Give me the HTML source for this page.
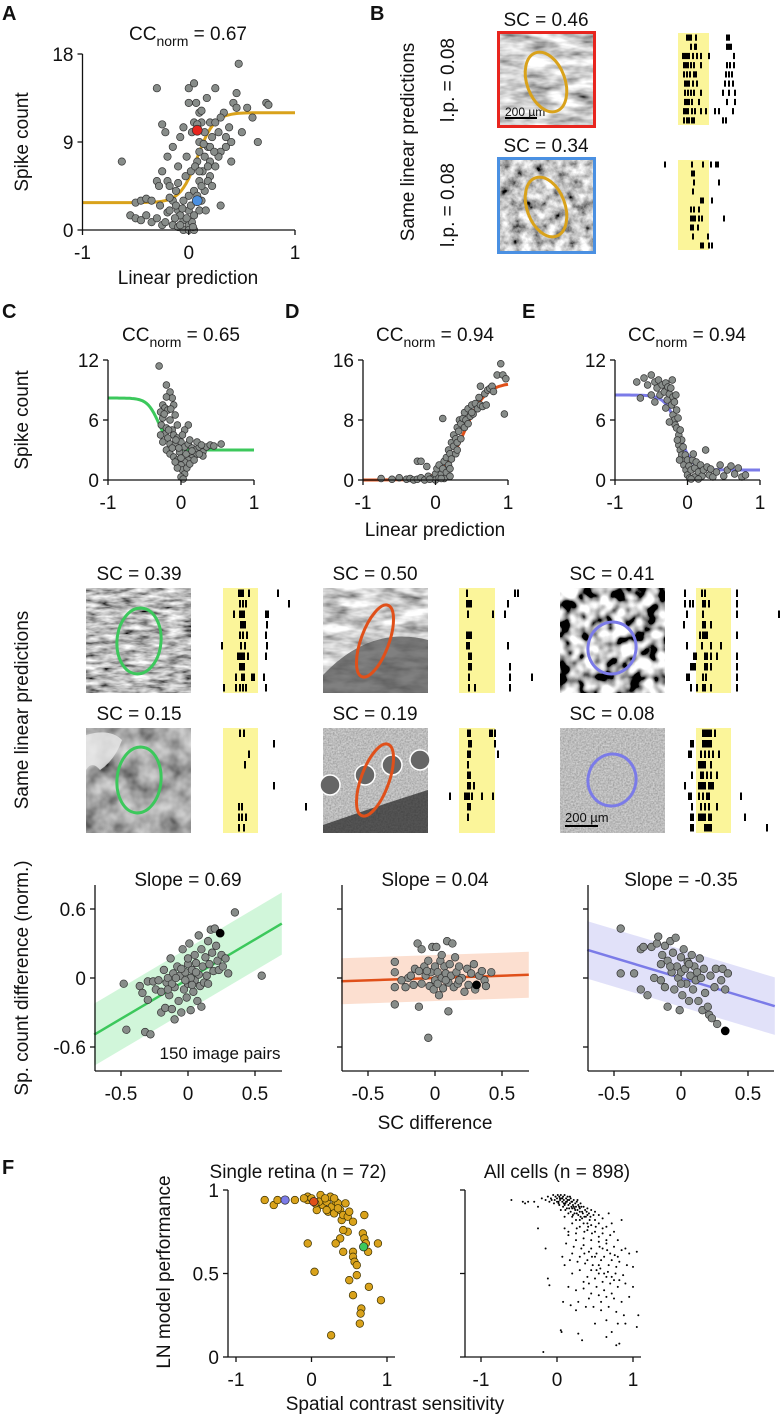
<!DOCTYPE html>
<html><head><meta charset="utf-8"><style>
html,body{margin:0;padding:0;background:#fff}
svg{display:block;font-family:"Liberation Sans",Arial,sans-serif}
text{fill:#111}
</style></head><body>
<svg id="fig" width="782" height="1419" viewBox="0 0 782 1419" xmlns="http://www.w3.org/2000/svg">
<defs>
<filter id="tex1" x="0" y="0" width="1" height="1"><feTurbulence type="fractalNoise" baseFrequency="0.04 0.12" numOctaves="3" seed="3"/><feColorMatrix type="matrix" values="1.5 0 0 0 -0.1  1.5 0 0 0 -0.1  1.5 0 0 0 -0.1  0 0 0 0 1"/></filter>
<filter id="tex2" x="0" y="0" width="1" height="1"><feTurbulence type="fractalNoise" baseFrequency="0.09" numOctaves="4" seed="7"/><feColorMatrix type="matrix" values="1.8 0 0 0 -0.35  1.8 0 0 0 -0.35  1.8 0 0 0 -0.35  0 0 0 0 1"/></filter>
<filter id="tex3" x="0" y="0" width="1" height="1"><feTurbulence type="fractalNoise" baseFrequency="0.06 0.2" numOctaves="3" seed="11"/><feColorMatrix type="matrix" values="1.6 0 0 0 -0.3  1.6 0 0 0 -0.3  1.6 0 0 0 -0.3  0 0 0 0 1"/></filter>
<filter id="tex4" x="0" y="0" width="1" height="1"><feTurbulence type="fractalNoise" baseFrequency="0.05" numOctaves="3" seed="5"/><feColorMatrix type="matrix" values="0.9 0 0 0 -0.05  0.9 0 0 0 -0.05  0.9 0 0 0 -0.05  0 0 0 0 1"/></filter>
<filter id="tex5" x="0" y="0" width="1" height="1"><feTurbulence type="fractalNoise" baseFrequency="0.07" numOctaves="2" seed="9"/><feColorMatrix type="matrix" values="4 0 0 0 -1.5  4 0 0 0 -1.5  4 0 0 0 -1.5  0 0 0 0 1"/></filter>
<filter id="tex6" x="0" y="0" width="1" height="1"><feTurbulence type="fractalNoise" baseFrequency="0.6" numOctaves="2" seed="2"/><feColorMatrix type="matrix" values="0.5 0 0 0 0.25  0.5 0 0 0 0.25  0.5 0 0 0 0.25  0 0 0 0 1"/></filter>
</defs>
</svg>
<script>
// ---------- data ----------
const aPts=[[-0.63,7],[-0.5,2.8],[-0.45,3],[-0.4,3.2],[-0.35,3],[-0.3,14.5],[-0.27,2.5],[-0.25,10.8],[-0.22,10],[-0.2,7.5],[-0.2,5],[-0.18,4.5],[-0.15,8.5],[-0.15,3],[-0.12,4],[-0.1,6.5],[-0.1,2],[-0.08,9.5],[-0.05,3],[-0.05,1],[-0.03,5.5],[0,13],[0,14.5],[0,2],[0,0.5],[0.02,6],[0.03,10],[0.05,15],[0.05,11],[0.05,4],[0.05,1.5],[0.07,13],[0.08,7],[0.1,12],[0.1,8],[0.1,5],[0.1,2],[0.12,11],[0.13,6],[0.15,10],[0.15,4],[0.17,13.5],[0.18,8.5],[0.2,11],[0.2,7],[0.2,5.5],[0.22,9.5],[0.25,14.5],[0.25,11],[0.25,6.5],[0.28,10],[0.3,8],[0.3,2.5],[0.33,12],[0.35,9.5],[0.38,10.5],[0.4,7],[0.42,13],[0.45,12.5],[0.45,14],[0.47,17],[0.5,10],[0.55,12.5],[0.6,11.5],[0.65,9],[0.73,13],[0.75,12.8],[-0.55,1.5],[-0.5,1.2],[-0.45,1],[-0.4,1.5],[-0.35,0.8],[-0.3,1.2],[-0.25,0.5],[-0.2,1.8],[-0.15,0.5],[-0.1,0.3],[-0.05,0],[0,0],[0.05,0],[-0.12,2.5],[-0.08,1.5],[0.02,2.5],[0.08,3.5],[0.12,3],[0.18,5],[0.22,4.5],[0.1,9],[0.15,7.5],[-0.02,7.5],[0.28,7.5],[-0.25,6],[-0.3,5],[0.35,8.5],[0.4,9],[-0.05,10.5],[-0.28,4.5],[0.16,2],[0.03,0.8],[-0.18,2],[0.3,11.5],[0.06,6.5],[0.2,8.5],[0.12,4.5],[-0.1,4.8],[-0.08,0.5],[-0.02,1.2],[0.04,0.3],[-0.13,1.2],[0,3.5],[0.1,6],[0.18,6.5],[0.14,8.8],[0.24,8],[0.08,10.8],[0.12,12.2],[-0.06,2.2],[-0.18,3.3],[-0.22,0.8]];
const aRed=[0.08,10.2], aBlue=[0.08,3];
const aFit=[2.8,9.2,0.08,0.08]; // base, amplitude, midpoint, width
const cPts=[[-0.3,11.4],[-0.2,9.5],[-0.15,8.8],[-0.12,8.2],[-0.2,8.3],[-0.25,7.5],[-0.22,7.2],[-0.28,6.8],[-0.18,7],[-0.1,7.5],[-0.08,6.5],[-0.25,6.2],[-0.15,6],[-0.05,5.5],[-0.27,5.5],[-0.2,5.2],[-0.12,5],[-0.22,4.6],[-0.28,4.5],[-0.18,4.2],[-0.1,4.5],[-0.05,4.2],[0.1,5.5],[0.05,5],[-0.25,3.8],[-0.15,3.6],[-0.08,3.5],[0,3.8],[0.05,3.3],[0.1,3.6],[0.15,3.2],[0.2,3],[0.25,3.3],[0.3,2.8],[0.35,3.3],[0.4,3.5],[0.45,3.4],[0.55,3.6],[0.3,2.4],[0.2,2.5],[0.15,2.2],[0.1,2],[0.05,1.8],[-0.2,3],[-0.15,2.6],[-0.1,2.3],[-0.05,2],[0,1.5],[0.02,1],[0.05,0.6],[0,0.3],[0.03,0.1],[-0.05,1.2],[-0.08,1.8],[0.08,1.2],[0.12,1.6],[0.18,2],[0.25,2.6],[-0.12,3.2],[-0.02,2.8],[0.07,2.6],[-0.17,5],[-0.07,4],[0.02,4.5],[0.12,4],[0.22,3.8],[0.28,3.5],[-0.23,6.6],[-0.14,7.1],[-0.03,3.2],[0,2.2],[0.15,2.9]];
const cFit=[3,5.2,-0.3,-0.08];
const dPts=[[-0.75,0.2],[-0.6,0.1],[-0.5,0.3],[-0.4,0.1],[-0.35,0.2],[-0.3,0],[-0.25,2.5],[-0.2,2.5],[-0.25,0.1],[-0.2,0.3],[-0.15,0],[-0.12,1.8],[-0.1,0.5],[-0.05,0.2],[0,0.8],[0,0],[0.02,1.5],[0.05,0.3],[0.05,2],[0.08,0.8],[0.1,1.5],[0.1,8.2],[0.12,2.5],[0.12,0.2],[0.15,3],[0.15,1],[0.18,2],[0.18,4],[0.2,3.5],[0.2,1.5],[0.22,5],[0.22,2.8],[0.25,4.5],[0.25,6],[0.28,5.5],[0.28,3.5],[0.3,7],[0.3,5],[0.32,6.5],[0.33,8],[0.35,7.5],[0.35,5.5],[0.38,8.2],[0.4,7],[0.4,9],[0.42,8],[0.45,9.5],[0.48,8.5],[0.5,10],[0.52,8.8],[0.55,10.2],[0.58,9.5],[0.6,11],[0.62,10],[0.65,9.8],[0.68,11.5],[0.7,10],[0.72,12],[0.75,12.2],[0.78,12.5],[0.8,11.8],[0.85,14],[0.9,15.5],[0.93,14],[0.95,8.8],[0.97,13.5],[0.62,12.5],[0.5,9],[0.45,7.5],[0.3,4],[0.2,0.5],[0.08,0.2],[-0.08,0.1]];
const dFit=[0,13,0.4,0.15];
const ePts=[[-0.7,9.8],[-0.65,8.2],[-0.6,10.2],[-0.55,9.5],[-0.5,10.5],[-0.5,8.5],[-0.45,9.8],[-0.45,7.8],[-0.42,9.2],[-0.4,10],[-0.38,8.5],[-0.35,9.5],[-0.32,8.8],[-0.3,9.7],[-0.28,8],[-0.27,9.3],[-0.25,8.6],[-0.23,9.2],[-0.22,7.5],[-0.21,10],[-0.2,8.3],[-0.2,6.5],[-0.18,7.8],[-0.18,6],[-0.17,5.5],[-0.15,7],[-0.15,5.2],[-0.13,6.2],[-0.12,4.5],[-0.12,3.5],[-0.1,5],[-0.1,3],[-0.08,4],[-0.08,2.5],[-0.06,3.3],[-0.05,2],[-0.05,1.5],[-0.03,2.5],[-0.02,1],[0,2],[0,0.5],[0.02,1.4],[0.03,0.2],[0.05,1],[0.07,2],[0.1,1.2],[0.1,0.3],[0.12,1.8],[0.15,0.8],[0.18,1.5],[0.2,0.4],[0.22,1],[0.25,3],[0.27,1.3],[0.3,0.5],[0.32,1.1],[0.35,0.3],[0.4,0.8],[0.45,1.5],[0.5,0.4],[0.55,1],[0.6,1.4],[0.65,0.6],[0.7,1.2],[0.75,0.3],[0.8,0.5],[-0.25,5.8],[-0.3,7.2],[-0.16,8.5],[-0.14,4],[-0.11,2],[0.05,0.1],[0.15,0.1],[0.08,2.6]];
const eFit=[1,7.5,-0.12,-0.09];
const sC=[[-0.48,-0.05],[-0.46,-0.45],[-0.36,-0.07],[-0.34,-0.13],[-0.32,-0.47],[-0.3,-0.19],[-0.3,-0.03],[-0.28,-0.49],[-0.26,-0.03],[-0.24,-0.1],[-0.22,-0.02],[-0.2,-0.12],[-0.2,-0.3],[-0.18,0.07],[-0.17,-0.26],[-0.16,-0.04],[-0.15,0],[-0.14,-0.15],[-0.13,0.17],[-0.12,-0.27],[-0.11,0.04],[-0.1,-0.08],[-0.1,-0.36],[-0.08,0.1],[-0.07,-0.2],[-0.06,0.02],[-0.05,-0.3],[-0.04,0.25],[-0.03,-0.1],[-0.02,0.05],[-0.01,-0.17],[0,0.12],[0,-0.05],[0.01,0.3],[0.02,-0.28],[0.03,0.07],[0.04,-0.12],[0.05,0.2],[0.05,-0.02],[0.06,0.13],[0.07,-0.2],[0.08,0.37],[0.08,0.03],[0.09,-0.07],[0.1,0.25],[0.1,-0.25],[0.11,0.1],[0.12,-0.04],[0.13,0.18],[0.14,0.02],[0.15,0.32],[0.15,-0.05],[0.16,0.12],[0.17,0.42],[0.18,0.22],[0.19,0.06],[0.2,0.43],[0.21,0.28],[0.22,0.15],[0.23,0.07],[0.25,0.2],[0.26,0.1],[0.28,0.17],[0.3,0.04],[0.35,0.57],[0.55,0.02],[-0.12,-0.05],[-0.09,0],[-0.05,0.08],[0.02,0],[-0.02,-0.02],[0,0.17],[0.03,-0.06],[-0.15,-0.1],[0.06,0.05]];
const sD=[[-0.3,0.14],[-0.3,0.05],[-0.3,-0.08],[-0.3,-0.23],[-0.22,-0.08],[-0.2,0],[-0.18,0.02],[-0.15,0.08],[-0.13,0.3],[-0.12,-0.25],[-0.1,0.25],[-0.1,-0.05],[-0.08,0.1],[-0.07,0.02],[-0.05,-0.52],[-0.05,0.15],[-0.04,-0.07],[-0.03,0.05],[-0.02,0.27],[-0.01,-0.1],[0,0.1],[0,-0.02],[0.01,0.27],[0.02,0.05],[0.03,-0.15],[0.04,0.15],[0.05,0],[0.06,-0.09],[0.07,0.1],[0.08,0.04],[0.09,0.32],[0.1,-0.04],[0.1,-0.29],[0.11,0.12],[0.12,0.02],[0.13,0.3],[0.14,-0.08],[0.15,0.18],[0.16,0.05],[0.17,-0.05],[0.18,0.1],[0.2,0],[0.22,-0.12],[0.24,0.08],[0.25,-0.06],[0.27,0.04],[0.29,0.12],[0.33,0.02],[0.37,-0.02],[0.38,-0.07],[0.42,0.05],[-0.25,-0.02],[-0.16,-0.06],[-0.06,0.06],[0.05,0.2],[0.18,-0.02],[0.35,0.06],[0.3,-0.1],[-0.12,0.06],[0.08,-0.02],[0.02,-0.05]];
const sE=[[-0.45,0.43],[-0.45,0.04],[-0.35,0.04],[-0.3,-0.1],[-0.3,0.25],[-0.28,0.27],[-0.25,-0.15],[-0.22,0.27],[-0.2,0],[-0.18,0.3],[-0.17,0.36],[-0.15,-0.02],[-0.14,0.2],[-0.12,0.28],[-0.12,-0.08],[-0.1,0.15],[-0.1,-0.25],[-0.08,0.32],[-0.07,0.05],[-0.06,0.22],[-0.05,-0.1],[-0.04,0.35],[-0.03,0.1],[-0.02,0],[-0.01,-0.28],[0,0.18],[0,0.05],[0.01,-0.15],[0.02,0.25],[0.03,0.08],[0.04,-0.05],[0.05,0.14],[0.06,-0.2],[0.07,0.02],[0.08,0.2],[0.09,-0.1],[0.1,0.1],[0.11,-0.02],[0.12,0.05],[0.13,-0.2],[0.14,0.17],[0.15,0],[0.16,-0.28],[0.17,0.08],[0.18,-0.13],[0.2,-0.25],[0.21,-0.32],[0.22,0.02],[0.23,-0.35],[0.25,-0.08],[0.26,0.08],[0.27,-0.4],[0.3,-0.02],[0.31,0.08],[0.33,-0.1],[0.35,0.04],[-0.08,0.1],[0,-0.05],[-0.15,0.12],[0.06,0.12]];
const sCBlack=[0.24,0.39], sDBlack=[0.31,-0.06], sEBlack=[0.33,-0.46];
const slopes=[0.69,0.04,-0.35], intercepts=[-0.01,0,0], bands=[0.27,0.2,0.25];
const fSingle=[[-0.62,0.94],[-0.5,0.91],[-0.45,0.94],[-0.22,0.94],[-0.05,0.96],[-0.05,0.94],[0,0.95],[0.07,0.88],[0.12,0.97],[0.15,0.91],[0.2,0.93],[0.22,0.87],[0.25,0.96],[0.27,0.9],[0.3,0.86],[0.32,0.93],[0.35,0.92],[0.38,0.88],[0.4,0.82],[0.42,0.85],[0.45,0.92],[0.48,0.84],[0.5,0.87],[0.55,0.81],[0.48,0.75],[0.42,0.76],[0.38,0.71],[0.32,0.68],[0.42,0.63],[0.55,0.63],[0.55,0.6],[0.57,0.57],[0.6,0.55],[0.68,0.74],[0.7,0.71],[0.72,0.68],[0.75,0.63],[0.88,0.68],[0.7,0.85],[-0.05,0.68],[0.04,0.51],[0.5,0.46],[0.6,0.49],[0.55,0.37],[0.76,0.42],[0.92,0.34],[0.66,0.29],[0.65,0.26],[0.64,0.2],[0.26,0.13],[0.1,0.93],[0.18,0.95],[0.05,0.92],[-0.1,0.95],[0.3,0.95],[0.35,0.89],[0.2,0.88]];
const fBlue=[-0.35,0.94], fOrange=[0.03,0.93], fGreen=[0.69,0.66];
const fAll=[[-0.6,0.94],[-0.45,0.93],[-0.42,0.92],[-0.38,0.93],[-0.3,0.93],[-0.25,0.9],[-0.2,0.95],[-0.15,0.94],[-0.12,0.96],[-0.1,0.93],[-0.08,0.95],[-0.05,0.97],[-0.03,0.94],[-0.02,0.96],[0,0.95],[0.01,0.97],[0.02,0.93],[0.03,0.96],[0.04,0.94],[0.05,0.97],[0.06,0.95],[0.07,0.93],[0.08,0.96],[0.09,0.94],[0.1,0.97],[0.11,0.92],[0.12,0.95],[0.13,0.93],[0.14,0.96],[0.15,0.91],[0.16,0.94],[0.17,0.92],[0.18,0.95],[0.19,0.9],[0.2,0.93],[0.21,0.91],[0.22,0.94],[0.23,0.89],[0.24,0.92],[0.25,0.9],[0.26,0.93],[0.27,0.88],[0.28,0.91],[0.3,0.89],[0.31,0.92],[0.33,0.87],[0.35,0.9],[0.37,0.88],[0.4,0.89],[0.42,0.86],[0.45,0.88],[0.48,0.85],[0.5,0.87],[0.55,0.85],[0.6,0.83],[0.68,0.86],[0.72,0.8],[0.85,0.82],[0.03,0.91],[0.08,0.9],[0.13,0.89],[0.18,0.87],[0.23,0.86],[0.28,0.85],[0.33,0.83],[0.38,0.84],[0.43,0.82],[0.05,0.88],[0.15,0.86],[0.25,0.82],[0.35,0.8],[0.45,0.79],[0.55,0.8],[0.65,0.78],[0.1,0.84],[0.2,0.8],[0.3,0.78],[0.4,0.76],[0.5,0.75],[0.6,0.74],[0.7,0.73],[0.8,0.7],[-0.25,0.77],[-0.15,0.65],[0.1,0.77],[0.15,0.73],[0.25,0.74],[0.35,0.71],[0.45,0.7],[0.55,0.69],[0.65,0.68],[0.75,0.66],[0.85,0.64],[0.95,0.62],[1.05,0.63],[0.12,0.68],[0.22,0.66],[0.32,0.65],[0.42,0.63],[0.52,0.62],[0.62,0.6],[0.72,0.58],[0.82,0.57],[0.92,0.55],[0.07,0.6],[0.17,0.58],[0.27,0.57],[0.37,0.56],[0.47,0.55],[0.57,0.53],[0.67,0.51],[0.77,0.5],[0.87,0.49],[1,0.54],[0.1,0.55],[0.2,0.5],[0.3,0.52],[0.4,0.48],[0.5,0.47],[0.6,0.45],[0.7,0.44],[0.8,0.42],[0.9,0.44],[1,0.42],[-0.12,0.47],[-0.1,0.43],[0.15,0.42],[0.25,0.4],[0.35,0.41],[0.45,0.38],[0.55,0.37],[0.65,0.36],[0.75,0.35],[0.85,0.33],[0.95,0.36],[0.08,0.33],[0.18,0.31],[0.28,0.33],[0.38,0.3],[0.48,0.3],[0.58,0.28],[0.68,0.3],[0.78,0.27],[0.88,0.25],[1.07,0.25],[0.25,0.28],[0.5,0.2],[0.65,0.22],[0.8,0.2],[0.9,0.2],[1.05,0.18],[0.05,0.16],[0.28,0.14],[0.33,0.1],[0.65,0.12],[0.72,0.15],[0.78,0.07],[0.82,0.08],[-0.18,0.03],[0.06,0.15],[0.55,0.55],[0.6,0.65],[0.5,0.6],[0.4,0.58],[0.3,0.6],[0.2,0.62],[0.45,0.65],[0.35,0.67],[0.25,0.7],[0.15,0.75],[0.55,0.72],[0.65,0.7],[0.75,0.75],[0.3,0.82],[0.4,0.8],[0.5,0.82],[0.2,0.84],[0.6,0.77],[0.7,0.62],[0.8,0.6],[0.9,0.65],[0.45,0.52],[0.55,0.5],[0.65,0.48],[0.75,0.46],[0.35,0.45],[0.62,0.4],[0.72,0.38],[0.58,0.33],[0.42,0.35],[0.02,0.92],[0.07,0.95],[0.12,0.93],[0.17,0.96],[0.22,0.9],[0.27,0.94],[0.32,0.9],[0,0.93],[-0.04,0.92],[0.1,0.91],[0.2,0.89],[0.3,0.87],[0.4,0.85],[-0.07,0.94],[0.04,0.95],[0.09,0.92],[0.14,0.94],[0.19,0.93],[0.24,0.88],[0.29,0.9],[0.34,0.86],[0.39,0.87],[0.44,0.84],[0.16,0.89],[0.26,0.86],[0.36,0.84],[0.11,0.88],[0.21,0.85],[0.31,0.84],[0.41,0.78],[0.51,0.78],[0.46,0.74],[0.36,0.75],[0.26,0.77],[0.56,0.66],[0.66,0.64],[0.76,0.61],[0.46,0.6],[0.36,0.62],[0.58,0.58],[0.68,0.55],[0.78,0.54],[0.52,0.52],[0.62,0.5],[0.72,0.48],[0.42,0.44],[0.52,0.42],[0.82,0.46]];
// raster spikes (px offsets from yellow band left edge)
const rB1=[[8,10,12,17,48,50],[12,16,17,48,50,52],[4,6,8,10,14,18,22,30,55],[5,7,9,12,15,22,48,51,55],[5,8,11,15,17,47,50,53],[6,8,10,14,18,46,50,54],[6,9,12,15,22,44,50,56],[6,8,10,13,20,48,56],[5,7,9,13,16,22,27,36,40,54],[5,8,10,13,15,44,47]];
const rB2=[[-14,13,24,32,37,39],[13,15],[15,40],[14],[22,24,33],[12,15,20],[12,14,16,20,23,45],[12,14,19],[14,29],[22,24,30,33]];
const rC1=[[15,17,19,25,54],[16,19,22,65],[10,16,18,20,42,44],[17,19,21,43],[16,19,23,42],[-2,17,21,43],[14,16,18,20,24,42],[16,18,20],[12,18,20,28,30,40],[0,12,16,19,22,42]];
const rC2=[[16,20],[50],[25],[21],[],[50],[],[15,18,82],[15,18,22],[15,20]];
const rD1=[[7,55,58],[7,9,11,48],[8,33,45],[],[7,9,11],[7,9,48],[9,11],[9,11,50],[9,50,72],[9,15,50]];
const rD2=[[8,10,30,32,35],[9,11,35],[8,10,38],[8],[8,10],[8,10,14],[-10,5,7,9,12,22,33],[8,10],[8],[]];
const rE1=[[-12,5,8,40],[-12,-7,-4,6,8,12,40],[-10,6,40,82],[-13,6,8,14],[3,6,8,10,40],[-10,5,14,24],[-3,-1,8,10,14,20,40],[-6,-4,-2,8,10,14,40],[-10,-8,6,9,40],[-6,0,6,8,14,40]];
const rE2=[[6,8,10,12,14,18],[-6,-4,6,8,10,12,14],[-8,-6,4,8,12,16,22],[2,4,6,8,14],[-5,4,6,10,14,20],[-12,2,4,6,8,12,14,16],[-8,-6,2,6,10,12,44],[-5,4,8,12,20],[-6,-4,2,4,6,8,12,14,48],[-6,-4,8,10,12,14,70]];

// ---------- helpers ----------
const NS='http://www.w3.org/2000/svg';
const svg=document.getElementById('fig');
const FS=19;
function mk(tag,attrs,parent){const e=document.createElementNS(NS,tag);for(const k in attrs)e.setAttribute(k,attrs[k]);(parent||svg).appendChild(e);return e;}
function lin(d0,d1,r0,r1){return v=>r0+(v-d0)*(r1-r0)/(d1-d0);}
function txt(x,y,s,size,anchor,name,rot){const t=mk('text',{x:x,y:y,'font-size':size,'text-anchor':anchor||'middle'});t.textContent=s;


if(rot)t.setAttribute('transform','rotate(-90 '+x+' '+y+')');return t;}
function ccTitle(x,y,val,name){const t=mk('text',{x:x,y:y,'font-size':FS,'text-anchor':'middle'});


const a=mk('tspan',{},t);a.textContent='CC';const b=mk('tspan',{dy:6,'font-size':14},t);b.textContent='norm';const c=mk('tspan',{dy:-6},t);c.textContent=' = '+val;}
function axes(g,xs,ys,xl,xr,yt,yb,xt,xtl,yt2,ytl){
  const l=mk('line',{x1:xl,x2:xl,y1:yt,y2:yb,stroke:'#111','stroke-width':1.3},g);
  
  
  const b=mk('line',{x1:xl,x2:xr,y1:yb,y2:yb,stroke:'#111','stroke-width':1.3},g);
  
  
  xt.forEach((v,i)=>{const x=xs(v);mk('line',{x1:x,x2:x,y1:yb,y2:yb+5,stroke:'#111','stroke-width':1.3},g);
    if(xtl){const t=mk('text',{x:x,y:yb+29,'font-size':FS,'text-anchor':'middle'},g);t.textContent=xtl[i];
    
    }});
  yt2.forEach((v,i)=>{const y=ys(v);mk('line',{x1:xl-5,x2:xl,y1:y,y2:y,stroke:'#111','stroke-width':1.3},g);
    if(ytl){const t=mk('text',{x:xl-9,y:y+7,'font-size':FS,'text-anchor':'end'},g);t.textContent=ytl[i];
    
    }});
}
function scatter(g,pts,xs,ys,r,fill,stroke,name){pts.forEach(p=>{const c=mk('circle',{cx:xs(p[0]),cy:ys(p[1]),r:r,fill:fill,stroke:stroke,'stroke-width':0.7},g);
  
  });}
function fitPath(g,fit,xs,ys,color,name,w){let d='';for(let i=0;i<=80;i++){const x=-1+2*i/80;const y=fit[0]+fit[1]/(1+Math.exp(-(x-fit[2])/fit[3]));d+=(i?'L':'M')+xs(x).toFixed(1)+','+ys(y).toFixed(1);}
  const p=mk('path',{d:d,fill:'none',stroke:color,'stroke-width':w||3},g);
  
  }
function group(name){const g=mk('g',{});return g;}
function raster(x0,x1,y0,y1,rows,name){const g=group(name);
  mk('rect',{x:x0,y:y0,width:x1-x0,height:y1-y0,fill:'#fbf59a'},g);
  const n=rows.length, step=(y1-y0)/n;
  rows.forEach((r,i)=>r.forEach(o=>{mk('rect',{x:x0+o,y:y0+i*step+1.5,width:2,height:step-3,fill:'#000'},g);}));}
function image(x,y,w,h,filter,ell,ecol,border,name,extra){const g=group(name);
  mk('rect',{x:x,y:y,width:w,height:h,fill:'#888',filter:'url(#'+filter+')'},g);
  if(extra)extra(g);
  if(border)mk('rect',{x:x-1.5,y:y-1.5,width:w+3,height:h+3,fill:'none',stroke:border,'stroke-width':3},g);
  const e=mk('ellipse',{cx:ell[0],cy:ell[1],rx:ell[2],ry:ell[3],transform:'rotate('+ell[4]+' '+ell[0]+' '+ell[1]+')',fill:'none',stroke:ecol,'stroke-width':3},g);
  
  }
const GRAY='#878c89', GSTROKE='#333';

// ---------- Panel letters ----------
[['A',2,20],['B',370,20],['C',2,318],['D',285,318],['E',522,318],['F',2,1174]].forEach(l=>{const t=txt(l[1],l[2],l[0],20,'start','panel-label-'+l[0].toLowerCase());t.setAttribute('font-weight','bold');});

// ---------- Panel A ----------
{const g=group('panel-a-scatter');const xs=lin(-1,1,82.5,295),ys=lin(0,18,230,54);
 fitPath(g,aFit,xs,ys,'#d9a21b','fit-curve',3);
 scatter(g,aPts,xs,ys,3.7,GRAY,GSTROKE,'data-point');
 scatter(g,[aRed],xs,ys,5,'#e8251e',GSTROKE,'highlight-red-point');
 scatter(g,[aBlue],xs,ys,5,'#4a90e2',GSTROKE,'highlight-blue-point');
 axes(g,xs,ys,82.5,295,54,230,[-1,0,1],['-1','0','1'],[0,9,18],['0','9','18']);
 ccTitle(188,40,'0.67','panel-a-title');
 txt(188,284,'Linear prediction',FS,'middle','x-axis-title');
 txt(28,142,'Spike count',FS,'middle','y-axis-title',true);}

// ---------- Panel B ----------
txt(546,26,'SC = 0.46',FS,'middle','image-1-sc-label');
txt(546,152,'SC = 0.34',FS,'middle','image-2-sc-label');
txt(414,142,'Same linear predictions',FS,'middle','row-title',true);
txt(454,80,'l.p. = 0.08',FS,'middle','image-1-lp-label',true);
txt(454,205,'l.p. = 0.08',FS,'middle','image-2-lp-label',true);
image(500,34,93,91,'tex1',[546,82,19,31,-20],'#d9a21b','#e8251e','stimulus-image-1',g=>{
  mk('line',{x1:505,x2:537,y1:118,y2:118,stroke:'#000','stroke-width':2},g);
  const t=mk('text',{x:505,y:116,'font-size':12,'text-anchor':'start'},g);t.textContent='200 µm';
  });
image(500,160,93,91,'tex2',[546,207,19,31,-20],'#d9a21b','#4a90e2','stimulus-image-2');
raster(678,709,33,125,rB1,'spike-raster-1');
raster(678,709,160,250,rB2,'spike-raster-2');

// ---------- Panels C, D, E top ----------
const topDefs=[
 {pts:cPts,fit:cFit,col:'#3cc85c',x0:108,x1:254,ymax:12,yt:[0,6,12],title:'0.65',cx:181,name:'c'},
 {pts:dPts,fit:dFit,col:'#e0501a',x0:363,x1:508,ymax:16,yt:[0,8,16],title:'0.94',cx:435,name:'d'},
 {pts:ePts,fit:eFit,col:'#7b7be8',x0:615,x1:760,ymax:12,yt:[0,6,12],title:'0.94',cx:687,name:'e'}];
topDefs.forEach(d=>{const g=group('panel-'+d.name+'-scatter');const xs=lin(-1,1,d.x0,d.x1),ys=lin(0,d.ymax,480,360);
 fitPath(g,d.fit,xs,ys,d.col,'fit-curve',3);
 scatter(g,d.pts,xs,ys,3.4,GRAY,GSTROKE,'data-point');
 axes(g,xs,ys,d.x0,d.x1,360,480,[-1,0,1],['-1','0','1'],d.yt,d.yt.map(String));
 ccTitle(d.cx,341,d.title,'panel-'+d.name+'-title');});
txt(28,420,'Spike count',FS,'middle','y-axis-title',true);
txt(435,536,'Linear prediction',FS,'middle','x-axis-title');

// ---------- Middle image rows ----------
txt(28,710,'Same linear predictions',FS,'middle','row-title',true);
[['SC = 0.39',139,580],['SC = 0.50',375,580],['SC = 0.41',612,580],['SC = 0.15',139,720],['SC = 0.19',375,720],['SC = 0.08',612,720]].forEach((s,i)=>txt(s[1],s[2],s[0],FS,'middle','sc-label-'+(i+1)));
image(86,588,105,105,'tex3',[139,641,22,33,5],'#3cc85c',null,'stimulus-c1');
image(86,728,105,105,'tex4',[139,780,22,33,5],'#3cc85c',null,'stimulus-c2',g=>{mk('path',{d:'M86,735 Q110,728 122,740 Q115,760 100,770 Q92,760 86,770 Z',fill:'#e8e8e8',opacity:0.8},g);});
image(323,588,105,105,'tex1',[375,641,14,38,20],'#e0501a',null,'stimulus-d1',g=>{mk('path',{d:'M323,675 Q370,625 428,640 L428,693 L323,693 Z',fill:'#555',opacity:0.75},g);});
image(323,728,105,105,'tex6',[375,780,14,38,20],'#e0501a',null,'stimulus-d2',g=>{
  [[330,785],[365,775],[392,765],[420,760]].forEach(c=>mk('circle',{cx:c[0],cy:c[1],r:10,fill:'#666',stroke:'#fff','stroke-width':1.5},g));
  mk('path',{d:'M323,825 Q380,805 428,790 L428,833 L323,833 Z',fill:'#222',opacity:0.7},g);});
image(560,588,105,105,'tex5',[612,648,24,26,10],'#7b7be8',null,'stimulus-e1');
image(560,728,105,105,'tex6',[612,780,24,26,10],'#7b7be8',null,'stimulus-e2',g=>{
  mk('line',{x1:565,x2:598,y1:826,y2:826,stroke:'#000','stroke-width':2},g);
  const t=mk('text',{x:565,y:822,'font-size':13,'text-anchor':'start'},g);t.textContent='200 µm';
  });
raster(223,258,588,693,rC1,'spike-raster-c1');
raster(223,258,728,833,rC2,'spike-raster-c2');
raster(459,495,588,693,rD1,'spike-raster-d1');
raster(459,495,728,833,rD2,'spike-raster-d2');
raster(696,731,588,693,rE1,'spike-raster-e1');
raster(696,731,728,833,rE2,'spike-raster-e2');

// ---------- Bottom slope panels ----------
const botDefs=[
 {pts:sC,blk:sCBlack,col:'#3cc85c',band:'#c9f5d3',x0:95,zero:188,half:255,xr:282,title:'Slope = 0.69',lab:true},
 {pts:sD,blk:sDBlack,col:'#e0501a',band:'#fbd9c8',x0:342,zero:435,half:502,xr:529,title:'Slope = 0.04',lab:false},
 {pts:sE,blk:sEBlack,col:'#7b7be8',band:'#dcdcf8',x0:588,zero:681,half:748,xr:774,title:'Slope = -0.35',lab:false}];
botDefs.forEach((d,i)=>{const g=group('slope-panel-'+(i+1));const xs=lin(0,0.5,d.zero,d.half),ys=lin(0,0.6,978,909);
 const xa=-0.7,xb=0.7,s=slopes[i],b=intercepts[i],w=bands[i];
 const band=mk('polygon',{points:[[xs(xa),ys(s*xa+b+w)],[xs(xb),ys(s*xb+b+w)],[xs(xb),ys(s*xb+b-w)],[xs(xa),ys(s*xa+b-w)]].map(p=>p.join(',')).join(' '),fill:d.band,opacity:0.85},g);
 
 
 const ln=mk('line',{x1:xs(xa),y1:ys(s*xa+b),x2:xs(xb),y2:ys(s*xb+b),stroke:d.col,'stroke-width':2.5},g);
 
 
 scatter(g,d.pts,xs,ys,3.8,GRAY,GSTROKE,'data-point');
 scatter(g,[d.blk],xs,ys,4,'#000','#000','highlight-point');
 axes(g,xs,ys,d.x0,d.xr,885,1071,[-0.5,0,0.5],['-0.5','0','0.5'],[-0.6,0,0.6],d.lab?['-0.6','0','0.6']:null);
 txt(d.zero,886,d.title,FS,'middle','slope-title');});
txt(220,1059,'150 image pairs',17,'middle','n-pairs-label');
txt(435,1129,'SC difference',FS,'middle','x-axis-title');
txt(28,978,'Sp. count difference (norm.)',FS,'middle','y-axis-title',true);

// ---------- Panel F ----------
{const g=group('panel-f-single-retina');const xs=lin(-1,1,236,387),ys=lin(0,1,1357,1190);
 scatter(g,fSingle,xs,ys,3.8,'#d9a21b','#3a3000','cell-point');
 scatter(g,[fBlue],xs,ys,4.2,'#7b7be8','#222','highlight-purple-cell');
 scatter(g,[fOrange],xs,ys,4.2,'#e0501a','#222','highlight-orange-cell');
 scatter(g,[fGreen],xs,ys,4.2,'#3cc85c','#222','highlight-green-cell');
 axes(g,xs,ys,228,395,1190,1357,[-1,0,1],['-1','0','1'],[0,0.5,1],['0','0.5','1']);
 txt(298,1178,'Single retina (n = 72)',FS,'middle','single-retina-title');}
{const g=group('panel-f-all-cells');const xs=lin(-1,1,481,633),ys=lin(0,1,1357,1190);
 scatter(g,fAll,xs,ys,1,'#000','none','cell-point');
 axes(g,xs,ys,465,641,1190,1357,[-1,0,1],['-1','0','1'],[0,0.5,1],null);
 txt(557,1178,'All cells (n = 898)',FS,'middle','all-cells-title');}
txt(395,1410,'Spatial contrast sensitivity',FS,'middle','x-axis-title');
txt(170,1272,'LN model performance',FS,'middle','y-axis-title',true);
</script>
</body></html>
